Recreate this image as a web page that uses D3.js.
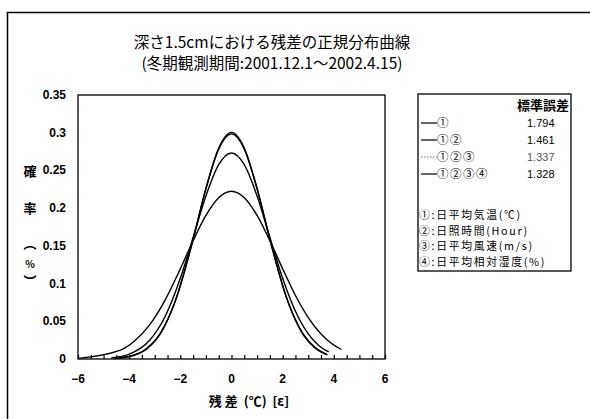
<!DOCTYPE html>
<html>
<head>
<meta charset="utf-8">
<script src="https://cdn.jsdelivr.net/npm/d3@7"></script>
<style>
  body { margin: 0; background: #fff; }
  svg { display: block; }
</style>
</head>
<body>
<script>
// residual points and normal density
var x1 = [-6.0, -4.4, -3.8, -3.2, -2.6, -2.0, -1.5, -1.0, -0.5, 0, 0.5, 1.0, 1.5, 2.0, 2.5, 3.0, 3.5, 3.9, 4.3];
var y1 = [0.0008, 0.0110, 0.0236, 0.0453, 0.0778, 0.1195, 0.1568, 0.1904, 0.2139, 0.2224, 0.2139, 0.1904, 0.1568, 0.1195, 0.0842, 0.0550, 0.0332, 0.0209, 0.0126];

var x2 = [-4.7, -4.0, -3.2, -2.6, -2.0, -1.5, -1.0, -0.5, 0, 0.5, 1.0, 1.5, 2.0, 2.5, 3.0, 3.4, 3.8];
var y2 = [0.0015, 0.0064, 0.0248, 0.0560, 0.1070, 0.1612, 0.2161, 0.2576, 0.2731, 0.2576, 0.2161, 0.1612, 0.1070, 0.0632, 0.0332, 0.0182, 0.0093];

var x3 = [-4.6, -4.0, -3.4, -2.8, -2.2, -1.6, -1.0, -0.5, 0, 0.5, 1.0, 1.6, 2.2, 2.8, 3.3, 3.7];
var y3 = [0.0008, 0.0034, 0.0118, 0.0333, 0.0770, 0.1458, 0.2256, 0.2783, 0.2984, 0.2783, 0.2256, 0.1458, 0.0770, 0.0333, 0.0142, 0.0065];

var x4 = [-4.5, -3.9, -3.3, -2.7, -2.1, -1.5, -1.0, -0.5, 0, 0.5, 1.0, 1.5, 2.1, 2.7, 3.3, 3.75];
var y4 = [0.0010, 0.0040, 0.0137, 0.0380, 0.0860, 0.1587, 0.2262, 0.2798, 0.3004, 0.2798, 0.2262, 0.1587, 0.0860, 0.0380, 0.0137, 0.0056];

var seriesNames = ["①", "①②", "①②③", "①②③④"];
var stdErrors = ["1.794", "1.461", "1.337", "1.328"];
var factorLabels = ["①:日平均気温(℃)", "②:日照時間(Hour)", "③:日平均風速(m/s)", "④:日平均相対湿度(%)"];

var xTicks = [-6, -4, -2, 0, 2, 4, 6];
var yTicks = [0, 0.05, 0.1, 0.15, 0.2, 0.25, 0.3, 0.35];

var width = 590;
var height = 419;
var jp = "'Noto Sans CJK JP', sans-serif";
var num = "'Liberation Sans', Arial, sans-serif";

var svg = d3.select("body")
    .append("svg")
    .attr("width", width)
    .attr("height", height);

// outer frame (only top and left edges show in the scan)
svg.append("path")
    .attr("d", "M7.5,419 V12.5 H590")
    .attr("fill", "none")
    .attr("stroke", "#000")
    .attr("stroke-width", 1.5);

// title
svg.append("text")
    .attr("x", 272).attr("y", 48)
    .attr("text-anchor", "middle")
    .attr("font-family", jp)
    .attr("font-size", "15.5px")
    .text("深さ1.5cmにおける残差の正規分布曲線");
svg.append("text")
    .attr("x", 272).attr("y", 69)
    .attr("text-anchor", "middle")
    .attr("font-family", jp)
    .attr("font-size", "15.5px")
    .text("(冬期観測期間:2001.12.1～2002.4.15)");

var plotLeft = 78, plotRight = 385, plotTop = 95, plotBottom = 359;

var x = d3.scaleLinear().domain([-6, 6]).range([plotLeft, plotRight]);
var y = d3.scaleLinear().domain([0, 0.35]).range([plotBottom, plotTop]);

// plot frame
svg.append("rect")
    .attr("x", plotLeft).attr("y", plotTop)
    .attr("width", plotRight - plotLeft).attr("height", plotBottom - plotTop)
    .attr("fill", "none")
    .attr("stroke", "#000")
    .attr("stroke-width", 1.3);

// x axis: small inward ticks every 0.5
var xAxis = svg.append("g")
    .attr("transform", "translate(0," + plotBottom + ")")
    .call(d3.axisBottom(x).tickValues(d3.range(-6, 6.01, 0.5)).tickSize(-4).tickFormat(""));
xAxis.select(".domain").remove();
xAxis.selectAll("line").attr("stroke-width", 1.2);

svg.selectAll("text.xt")
    .data(xTicks)
    .enter()
    .append("text")
    .attr("class", "xt")
    .attr("x", d => x(d))
    .attr("y", plotBottom + 24)
    .attr("text-anchor", "middle")
    .attr("font-family", num)
    .attr("font-weight", "bold")
    .attr("font-size", "12px")
    .text(d => d < 0 ? "−" + Math.abs(d) : d);

svg.selectAll("text.yt")
    .data(yTicks)
    .enter()
    .append("text")
    .attr("class", "yt")
    .attr("x", plotLeft - 12)
    .attr("y", d => y(d) + 4)
    .attr("text-anchor", "end")
    .attr("font-family", num)
    .attr("font-weight", "bold")
    .attr("font-size", "12px")
    .text(d => d);

// y axis title, stacked vertically
var yTitle = [["確", 171], ["率", 208], ["︵", 243], ["%", 263], ["︶", 281]];
svg.selectAll("text.ylab")
    .data(yTitle)
    .enter()
    .append("text")
    .attr("class", "ylab")
    .attr("x", 30)
    .attr("y", d => d[1] + 5)
    .attr("text-anchor", "middle")
    .attr("font-family", jp)
    .attr("font-weight", "bold")
    .attr("font-size", d => d[0] == "%" ? "10px" : "13px")
    .text(d => d[0]);

// x axis title
svg.append("text")
    .attr("x", 249).attr("y", 406)
    .attr("text-anchor", "middle")
    .attr("font-family", jp)
    .attr("font-weight", "bold")
    .attr("font-size", "13px")
    .attr("xml:space", "preserve")
    .text("残 差  (℃)  [ε]");

// curves
var curves = [
    {xs: x1, ys: y1, dash: null},
    {xs: x2, ys: y2, dash: null},
    {xs: x3, ys: y3, dash: "1.5,1.5"},
    {xs: x4, ys: y4, dash: null}
];

var line = d3.line()
    .x(d => x(d[0]))
    .y(d => y(d[1]))
    .curve(d3.curveMonotoneX);

svg.selectAll("path.curve")
    .data(curves)
    .enter()
    .append("path")
    .attr("class", "curve")
    .attr("d", d => line(d.xs.map((v, i) => [v, d.ys[i]])))
    .attr("fill", "none")
    .attr("stroke", "#000")
    .attr("stroke-width", 1.4);

// legend box
svg.append("rect")
    .attr("x", 418).attr("y", 94)
    .attr("width", 153).attr("height", 177)
    .attr("fill", "none")
    .attr("stroke", "#000")
    .attr("stroke-width", 1.3);

svg.append("text")
    .attr("x", 569).attr("y", 110)
    .attr("text-anchor", "end")
    .attr("font-family", jp)
    .attr("font-weight", "bold")
    .attr("font-size", "13px")
    .text("標準誤差");

var rowY = [123, 140, 157, 174];

svg.selectAll("line.key")
    .data(curves)
    .enter()
    .append("line")
    .attr("class", "key")
    .attr("x1", 421).attr("x2", 437)
    .attr("y1", (d, i) => rowY[i]).attr("y2", (d, i) => rowY[i])
    .attr("stroke", (d, i) => i == 2 ? "#666" : "#000")
    .attr("stroke-width", 1.2)
    .attr("stroke-dasharray", d => d.dash);

svg.selectAll("text.kname")
    .data(seriesNames)
    .enter()
    .append("text")
    .attr("class", "kname")
    .attr("x", 437)
    .attr("y", (d, i) => rowY[i] + 4)
    .attr("font-family", jp)
    .attr("font-size", "11.5px")
    .attr("letter-spacing", "1.5px")
    .text(d => d);

svg.selectAll("text.kval")
    .data(stdErrors)
    .enter()
    .append("text")
    .attr("class", "kval")
    .attr("x", 527)
    .attr("y", (d, i) => rowY[i] + 4)
    .attr("font-family", num)
    .attr("font-size", "11px")
    .attr("fill", (d, i) => i == 2 ? "#555" : "#000")
    .text(d => d);

svg.selectAll("text.factor")
    .data(factorLabels)
    .enter()
    .append("text")
    .attr("class", "factor")
    .attr("x", 419)
    .attr("y", (d, i) => 219 + i * 15.7)
    .attr("font-family", jp)
    .attr("font-size", "10.8px")
    .attr("letter-spacing", "1.7px")
    .text(d => d);
</script>
</body>
</html>
